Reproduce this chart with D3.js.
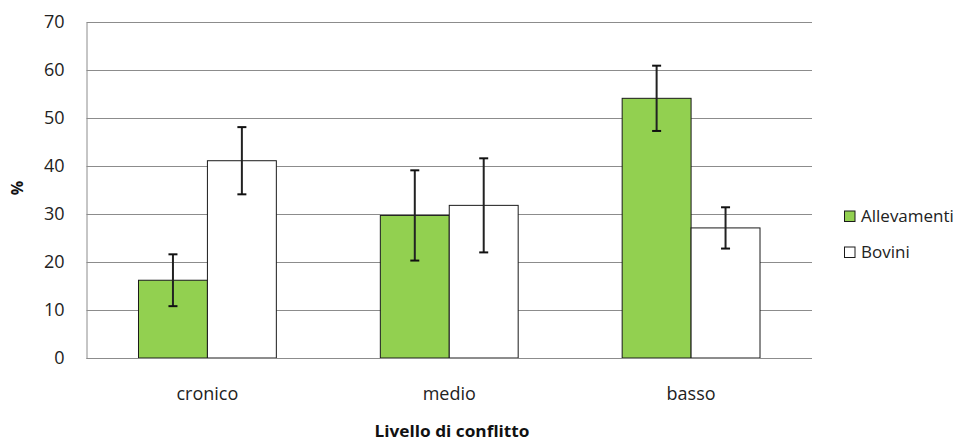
<!DOCTYPE html>
<html>
<head>
<meta charset="utf-8">
<script src="https://cdn.jsdelivr.net/npm/d3@7"></script>
<style>
  html, body { margin: 0; padding: 0; background: #fff; }
  svg { display: block; font-family: "Open Sans", sans-serif; }
</style>
</head>
<body>
<svg id="chart" width="959" height="441"></svg>
<script>
// Categories, series and tick values
const categories = ["cronico", "medio", "basso"];
const seriesNames = ["Allevamenti", "Bovini"];
const allevamenti = [16.2, 29.7, 54.1];
const allevamentiErr = [5.4, 9.4, 6.8];
const bovini = [41.1, 31.8, 27.1];
const boviniErr = [7.0, 9.8, 4.3];
const yTicks = [0, 10, 20, 30, 40, 50, 60, 70];
const seriesColors = ["#92D050", "#FFFFFF"];

const svg = d3.select("#chart");
const margin = { left: 86.5, right: 147, top: 22, bottom: 83 };
const width = 959 - margin.left - margin.right;
const height = 441 - margin.top - margin.bottom;

const g = svg.append("g").attr("transform", `translate(${margin.left},${margin.top})`);

const x0 = d3.scaleBand().domain(categories).range([0, width]).paddingInner(0.43).paddingOuter(0.215);
const x1 = d3.scaleBand().domain(seriesNames).range([0, x0.bandwidth()]);
const y = d3.scaleLinear().domain([0, 70]).range([height, 0]);

// Horizontal gridlines
g.append("g")
  .selectAll("line")
  .data(yTicks)
  .join("line")
  .attr("x1", 0).attr("x2", width)
  .attr("y1", d => Math.round(y(d)) + 0.5).attr("y2", d => Math.round(y(d)) + 0.5)
  .attr("stroke", "#8c8c8c").attr("stroke-width", 1);

// Y axis
const yAxis = g.append("g")
  .call(d3.axisLeft(y).tickValues(yTicks).tickSize(0).tickPadding(22));
yAxis.select(".domain").attr("stroke", "#8c8c8c");
yAxis.selectAll("text")
  .attr("font-size", 18).attr("fill", "#222").attr("font-family", "Open Sans, sans-serif");

// Data rows per category
const rows = categories.map((c, i) => ({
  cat: c,
  values: [
    { s: seriesNames[0], v: allevamenti[i], e: allevamentiErr[i], color: seriesColors[0] },
    { s: seriesNames[1], v: bovini[i], e: boviniErr[i], color: seriesColors[1] }
  ]
}));

const groups = g.append("g").selectAll("g")
  .data(rows).join("g")
  .attr("transform", d => `translate(${x0(d.cat)},0)`);

groups.selectAll("rect")
  .data(d => d.values).join("rect")
  .attr("x", d => x1(d.s))
  .attr("y", d => y(d.v))
  .attr("width", x1.bandwidth())
  .attr("height", d => y(0) - y(d.v))
  .attr("fill", d => d.color)
  .attr("stroke", "#1a1a1a").attr("stroke-width", 1);

// Error bars
const capW = 4.5;
const err = groups.selectAll("g.err")
  .data(d => d.values).join("g").attr("class", "err")
  .attr("transform", d => `translate(${x1(d.s) + x1.bandwidth() / 2},0)`);
err.append("line")
  .attr("x1", 0).attr("x2", 0)
  .attr("y1", d => y(d.v + d.e)).attr("y2", d => y(d.v - d.e))
  .attr("stroke", "#222").attr("stroke-width", 2);
err.append("line")
  .attr("x1", -capW).attr("x2", capW)
  .attr("y1", d => y(d.v + d.e)).attr("y2", d => y(d.v + d.e))
  .attr("stroke", "#111").attr("stroke-width", 2);
err.append("line")
  .attr("x1", -capW).attr("x2", capW)
  .attr("y1", d => y(d.v - d.e)).attr("y2", d => y(d.v - d.e))
  .attr("stroke", "#111").attr("stroke-width", 2);

// Baseline
g.append("line")
  .attr("x1", 0).attr("x2", width)
  .attr("y1", Math.round(y(0)) + 0.5).attr("y2", Math.round(y(0)) + 0.5)
  .attr("stroke", "#8c8c8c");

// Category labels
g.append("g").selectAll("text")
  .data(categories).join("text")
  .attr("x", d => x0(d) + x0.bandwidth() / 2)
  .attr("y", height + 42)
  .attr("text-anchor", "middle")
  .attr("font-size", 18).attr("fill", "#222")
  .text(d => d);

// Axis titles
svg.append("text")
  .attr("x", 452).attr("y", 437)
  .attr("text-anchor", "middle")
  .attr("font-size", 16).attr("font-weight", "bold").attr("fill", "#111")
  .attr("textLength", 155).attr("lengthAdjust", "spacingAndGlyphs")
  .text("Livello di conflitto");

svg.append("text")
  .attr("transform", "translate(23,188) rotate(-90)")
  .attr("text-anchor", "middle")
  .attr("font-size", 16).attr("font-weight", "bold").attr("fill", "#111")
  .text("%");

// Legend
const legend = svg.append("g").selectAll("g")
  .data(seriesNames).join("g")
  .attr("transform", (d, i) => `translate(844.5,${211 + i * 36})`);
legend.append("rect")
  .attr("width", 10.5).attr("height", 10.5)
  .attr("fill", (d, i) => seriesColors[i])
  .attr("stroke", "#1a1a1a").attr("stroke-width", 1);
legend.append("text")
  .attr("x", 16.5).attr("y", 11)
  .attr("font-size", 17).attr("fill", "#222")
  .text(d => d);
</script>
</body>
</html>
